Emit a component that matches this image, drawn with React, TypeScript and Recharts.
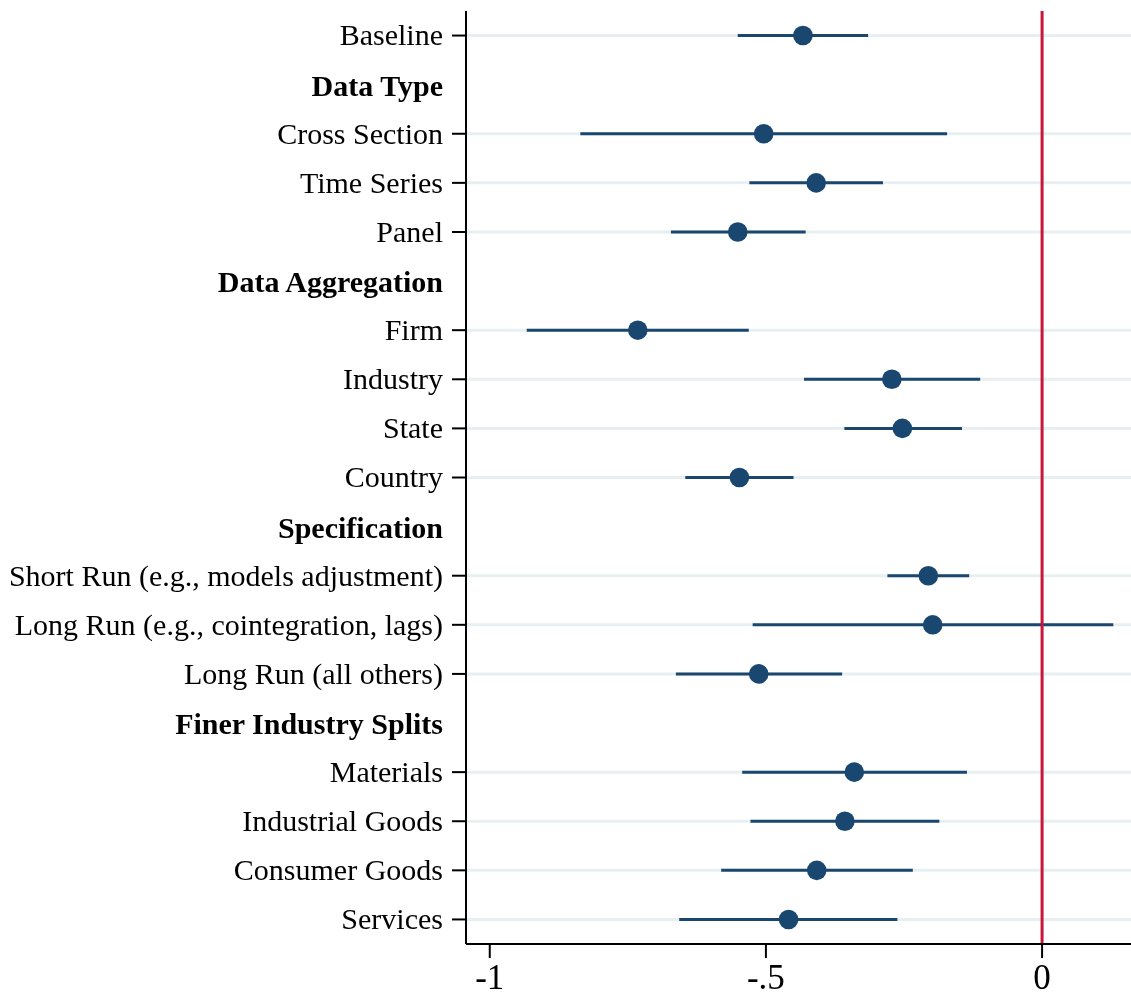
import React from "react";
import {
  ScatterChart,
  Scatter,
  XAxis,
  YAxis,
  ErrorBar,
  ReferenceLine,
} from "recharts";

const rowLabels = [
  "Baseline",
  "Data Type",
  "Cross Section",
  "Time Series",
  "Panel",
  "Data Aggregation",
  "Firm",
  "Industry",
  "State",
  "Country",
  "Specification",
  "Short Run (e.g., models adjustment)",
  "Long Run (e.g., cointegration, lags)",
  "Long Run (all others)",
  "Finer Industry Splits",
  "Materials",
  "Industrial Goods",
  "Consumer Goods",
  "Services",
];

const headerRows = ["Data Type", "Data Aggregation", "Specification", "Finer Industry Splits"];

// point estimates and 95% bounds, null for the section headers
const estimates = [
  -0.433, null, -0.504, -0.409, -0.551, null, -0.732, -0.272, -0.253, -0.548,
  null, -0.206, -0.198, -0.513, null, -0.34, -0.357, -0.408, -0.459,
];
const lowerBounds = [
  -0.551, null, -0.836, -0.53, -0.672, null, -0.933, -0.431, -0.358, -0.646,
  null, -0.28, -0.524, -0.663, null, -0.543, -0.528, -0.581, -0.657,
];
const upperBounds = [
  -0.315, null, -0.172, -0.288, -0.428, null, -0.531, -0.112, -0.145, -0.45,
  null, -0.132, 0.129, -0.362, null, -0.136, -0.186, -0.234, -0.262,
];

const xTicks = [-1, -0.5, 0];
const xTickLabels = ["-1", "-.5", "0"];

const NAVY = "#1a476f";
const GRID = "#e8eff1";
const RED = "#c8163a";
const FONT = "'Liberation Serif', 'Times New Roman', serif";

const points = rowLabels
  .map((label, i) => ({
    row: i,
    label,
    est: estimates[i],
    err:
      estimates[i] == null
        ? null
        : [
            (estimates[i] as number) - (lowerBounds[i] as number),
            (upperBounds[i] as number) - (estimates[i] as number),
          ],
  }))
  .filter((d) => d.est != null);

const rowIndex = rowLabels.map((_, i) => i);

function RowTick(props: any) {
  const { x, y, payload } = props;
  const label = rowLabels[payload.value];
  const header = headerRows.includes(label);
  return (
    <g>
      {!header && <line x1={x - 14} x2={x} y1={y} y2={y} stroke="#000" strokeWidth={2} />}
      <text
        x={x - 23}
        y={y}
        dy={header ? "0.38em" : "0.33em"}
        textAnchor="end"
        fontFamily={FONT}
        fontSize={30}
        fontWeight={header ? "bold" : "normal"}
        fill="#000"
      >
        {label}
      </text>
    </g>
  );
}

function Dot(props: any) {
  const { cx, cy } = props;
  return <circle cx={cx} cy={cy} r={9.8} fill={NAVY} />;
}

export default function App() {
  // pinned to the viewport so the page never grows scrollbars
  return (
    <div style={{ position: "fixed", left: 0, top: 0, width: 1131, height: 997 }}>
      <ScatterChart
        width={1131}
        height={997}
        margin={{ top: 11, right: 0, bottom: 0, left: 0 }}
      >
        <XAxis
          type="number"
          dataKey="est"
          domain={[-1.043, 0.161]}
          ticks={xTicks}
          tickFormatter={(v) => xTickLabels[xTicks.indexOf(v)]}
          allowDataOverflow
          height={53}
          stroke="#000"
          strokeWidth={2}
          tickSize={14}
          tickMargin={6}
          tick={{ fontFamily: FONT, fontSize: 35, fill: "#000" }}
        />
        <YAxis
          type="number"
          dataKey="row"
          domain={[-0.5, 18.5]}
          reversed
          ticks={rowIndex}
          interval={0}
          width={466}
          stroke="#000"
          strokeWidth={2}
          tickLine={false}
          tickSize={0}
          tickMargin={0}
          tick={<RowTick />}
        />
        {points.map((d) => (
          <ReferenceLine
            key={d.label}
            y={d.row}
            stroke={GRID}
            strokeWidth={3}
          />
        ))}
        <Scatter data={points} shape={<Dot />} isAnimationActive={false}>
          <ErrorBar
            dataKey="err"
            direction="x"
            width={0}
            stroke={NAVY}
            strokeWidth={3}
          />
        </Scatter>
        <ReferenceLine x={0} stroke={RED} strokeWidth={3} />
      </ScatterChart>
    </div>
  );
}
